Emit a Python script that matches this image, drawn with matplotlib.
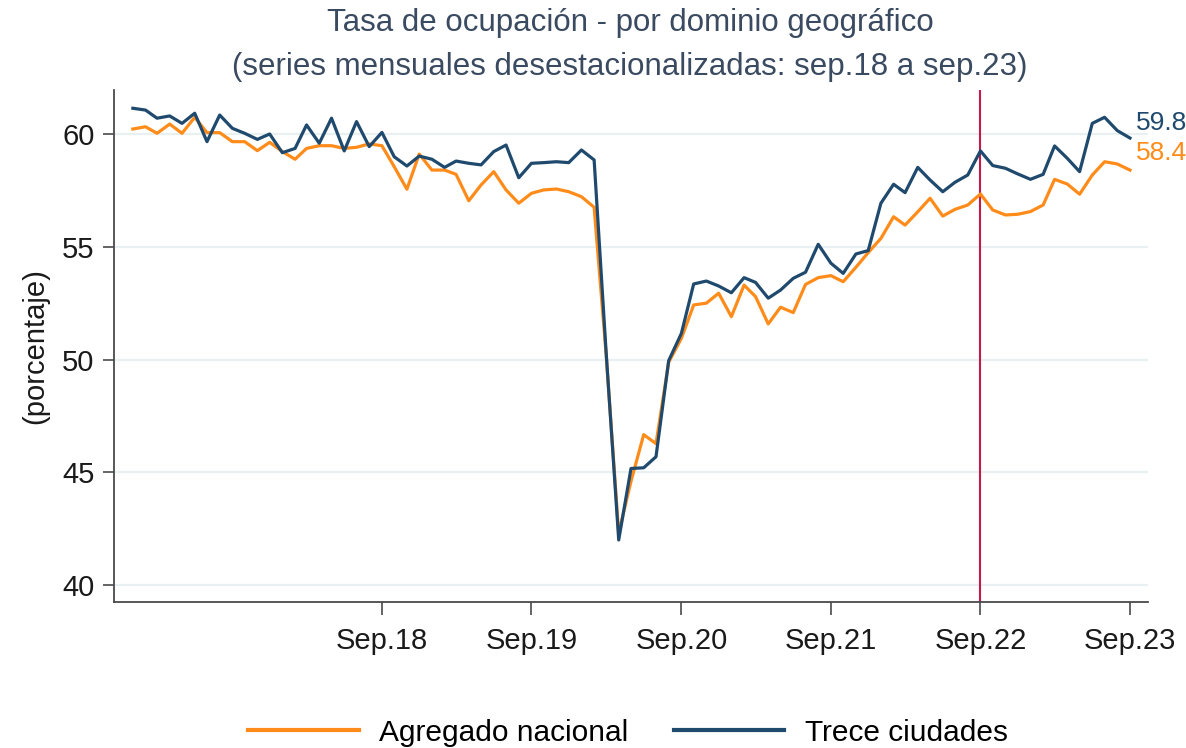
import matplotlib
matplotlib.use("Agg")
import matplotlib.pyplot as plt
import pandas as pd

plt.rcParams['font.family'] = ['Liberation Sans', 'DejaVu Sans']

months = pd.date_range("2017-01-01", "2023-09-01", freq="MS")

agregado_nacional = [
    60.22, 60.32, 60.03, 60.44, 60.03, 60.74, 60.06, 60.06, 59.66, 59.66,
    59.26, 59.63, 59.22, 58.88, 59.36, 59.48, 59.48, 59.36, 59.41, 59.56,
    59.48, 58.55, 57.55, 59.11, 58.40, 58.40, 58.21, 57.04, 57.74, 58.33,
    57.52, 56.93, 57.37, 57.52, 57.56, 57.44, 57.22, 56.75, 50.30, 42.30,
    44.60, 46.67, 46.27, 49.88, 50.94, 52.42, 52.50, 52.94, 51.90, 53.30,
    52.79, 51.58, 52.32, 52.08, 53.33, 53.63, 53.72, 53.45, 54.09, 54.74,
    55.37, 56.33, 55.96, 56.55, 57.15, 56.36, 56.66, 56.85, 57.34, 56.63,
    56.41, 56.44, 56.56, 56.85, 57.99, 57.78, 57.33, 58.18, 58.77, 58.67,
    58.40,
]

trece_ciudades = [
    61.14, 61.06, 60.70, 60.80, 60.47, 60.92, 59.66, 60.84, 60.25, 60.03,
    59.76, 60.00, 59.17, 59.36, 60.40, 59.59, 60.70, 59.25, 60.55, 59.44,
    60.07, 58.99, 58.58, 59.02, 58.88, 58.52, 58.80, 58.70, 58.63, 59.22,
    59.51, 58.06, 58.70, 58.73, 58.77, 58.73, 59.29, 58.85, 50.40, 42.00,
    45.17, 45.20, 45.69, 49.95, 51.16, 53.35, 53.48, 53.26, 52.96, 53.63,
    53.42, 52.72, 53.08, 53.60, 53.87, 55.11, 54.27, 53.82, 54.68, 54.83,
    56.93, 57.77, 57.40, 58.52, 57.96, 57.44, 57.86, 58.18, 59.25, 58.60,
    58.48, 58.23, 57.99, 58.21, 59.47, 58.92, 58.33, 60.47, 60.74, 60.15,
    59.82,
]

tick_dates = pd.to_datetime(["2018-09-01", "2019-09-01", "2020-09-01",
                             "2021-09-01", "2022-09-01", "2023-09-01"])
tick_labels = ["Sep.18", "Sep.19", "Sep.20", "Sep.21", "Sep.22", "Sep.23"]
y_ticks = [40, 45, 50, 55, 60]
marker_date = pd.Timestamp("2022-09-01")

title = "Tasa de ocupación - por dominio geográfico\n(series mensuales desestacionalizadas: sep.18 a sep.23)"

orange = "#ff8c1a"
blue = "#1f4a6e"
red = "#c8174a"
spine_col = "#4a4a4a"
text_col = "#1a1a1a"

fig = plt.figure(figsize=(11.86, 7.48), dpi=100)
ax = fig.add_axes([114/1186, 1-602/748, (1148-114)/1186, (602-90)/748])

for y in y_ticks:
    ax.axhline(y, color="#e8f0f2", lw=1.6, zorder=0)

ax.axvline(marker_date, color=red, lw=1.5, zorder=1)

ax.plot(months, agregado_nacional, color=orange, lw=2.3, zorder=2,
        label="Agregado nacional")
ax.plot(months, trece_ciudades, color=blue, lw=2.3, zorder=3,
        label="Trece ciudades")

ax.set_ylim(39.25, 61.95)
ax.set_xlim(months[0] - pd.Timedelta(days=46), months[-1] + pd.Timedelta(days=44))

ax.set_yticks(y_ticks)
ax.set_xticks(tick_dates)
ax.set_xticklabels(tick_labels)

for s in ["top", "right"]:
    ax.spines[s].set_visible(False)
for s in ["left", "bottom"]:
    ax.spines[s].set_color(spine_col)
    ax.spines[s].set_linewidth(1.3)

ax.tick_params(axis="y", length=8, width=1.2, color=spine_col, labelsize=21,
               labelcolor=text_col, pad=6)
ax.tick_params(axis="x", length=9, width=1.2, color=spine_col, labelsize=21,
               labelcolor=text_col, pad=9)

ax.set_ylabel("(porcentaje)", fontsize=21, color=text_col, labelpad=9)

ax.annotate(f"{trece_ciudades[-1]:.1f}", xy=(months[-1], trece_ciudades[-1]),
            xytext=(4, 11), textcoords="offset points", color=blue,
            fontsize=19, ha="left", va="center", annotation_clip=False)
ax.annotate(f"{agregado_nacional[-1]:.1f}", xy=(months[-1], agregado_nacional[-1]),
            xytext=(4, 12), textcoords="offset points", color=orange,
            fontsize=19, ha="left", va="center", annotation_clip=False)

fig.suptitle(title, x=630/1186, y=1 - 8/748, fontsize=22.5, color="#3a4a60",
             linespacing=1.62, va="top")

leg = fig.legend(loc="lower center", bbox_to_anchor=(628/1186, -0.034), ncol=2,
                 frameon=False, fontsize=21.5, handlelength=3.7, columnspacing=1.5,
                 handletextpad=0.7)
for line in leg.get_lines():
    line.set_linewidth(3)

fig.savefig("out.png", dpi=100)
